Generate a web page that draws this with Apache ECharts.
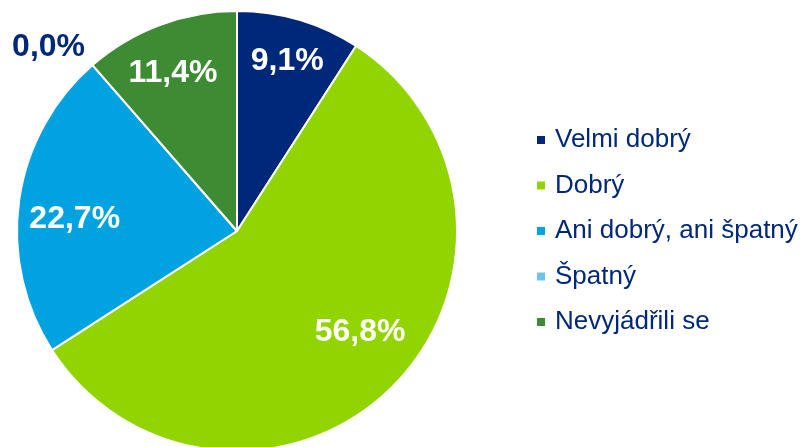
<!DOCTYPE html>
<html><head><meta charset="utf-8">
<script src="https://cdn.jsdelivr.net/npm/echarts@6/dist/echarts.min.js"></script>
<style>html,body{margin:0;padding:0;background:#fff}#c{width:806px;height:447px}</style>
</head><body><div id="c"></div>
<script>
const categories = ['Velmi dobrý', 'Dobrý', 'Ani dobrý, ani špatný', 'Špatný', 'Nevyjádřili se'];
const values = [9.1, 56.8, 22.7, 0.0, 11.4];
const colors = ['#00287A', '#92D400', '#00A3E0', '#6CC5E6', '#3D8B32'];
const labelColors = ['#fff', '#fff', '#fff', '#00287A', '#fff'];
// label placement (fraction of radius, angle nudge in degrees)
const labelRadius = [0.81, 0.72, 0.74, 1.2, 0.78];
const labelAngleShift = [0, -6, -3.5, -4.5, -1.4];

const CX = 237, CY = 231, R = 220;
const total = values.reduce((a, b) => a + b, 0);
const midAngles = [];
let acc = 0;
values.forEach(v => { midAngles.push((acc + v / 2) / total * 360); acc += v; });

const chart = echarts.init(document.getElementById('c'), null, {renderer: 'canvas'});
chart.setOption({
  animation: false,
  legend: {
    orient: 'vertical',
    left: 530, top: 122,
    itemWidth: 10, itemHeight: 10, itemGap: 19.5,
    icon: 'rect',
    textStyle: {color: '#00287A', fontSize: 26, fontFamily: 'Liberation Sans, Arial, sans-serif', lineHeight: 26, padding: [0, 0, 0, 4]},
    data: categories
  },
  series: [{
    type: 'pie',
    center: [CX, CY],
    radius: [0, R],
    startAngle: 90,
    clockwise: true,
    silent: true,
    itemStyle: {borderColor: '#fff', borderWidth: 2},
    label: {
      show: true, position: 'inside',
      fontFamily: 'Liberation Sans, Arial, sans-serif',
      fontWeight: 'bold', fontSize: 32,
      formatter: p => p.value.toFixed(1).replace('.', ',') + '%'
    },
    labelLine: {show: false},
    labelLayout: function (p) {
      const i = p.dataIndex;
      const a = (midAngles[i] + labelAngleShift[i]) * Math.PI / 180;
      const r = labelRadius[i] * R;
      return {x: CX + r * Math.sin(a), y: CY + 1.5 - r * Math.cos(a), align: 'center', verticalAlign: 'middle'};
    },
    data: categories.map((n, i) => ({
      name: n, value: values[i],
      itemStyle: {color: colors[i]},
      label: {color: labelColors[i]}
    }))
  }]
});
</script></body></html>
